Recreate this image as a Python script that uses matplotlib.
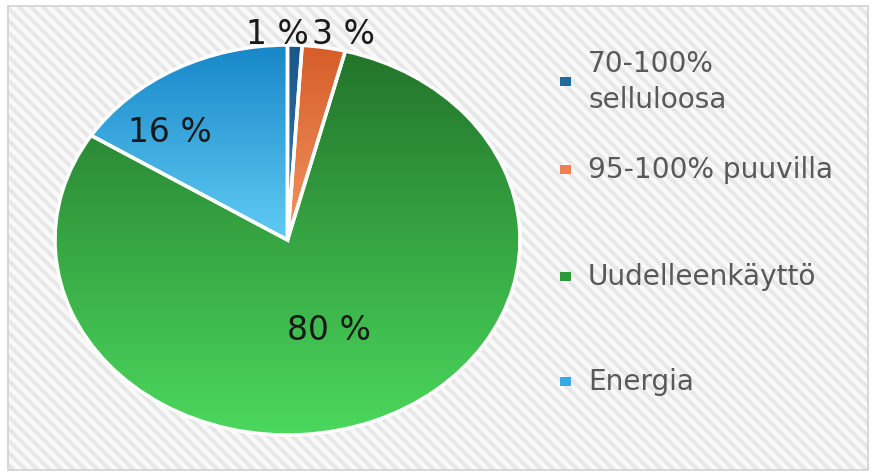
import matplotlib
matplotlib.use("Agg")
import matplotlib.pyplot as plt
import numpy as np
from matplotlib.colors import LinearSegmentedColormap
from matplotlib.patches import Rectangle

labels = ["70-100%\nselluloosa", "95-100% puuvilla", "Uudelleenkäyttö", "Energia"]
values = [1, 3, 80, 16]
pct_text = ["1 %", "3 %", "80 %", "16 %"]

# gradient colours per slice: (top, bottom)
grad = [("#1c5686", "#2f80bb"),
        ("#d65d28", "#f39562"),
        ("#23742a", "#4bd85d"),
        ("#1887c8", "#60cbf4")]
key_colors = ["#1f6a9e", "#ee7f4f", "#2b9a37", "#3aa9e0"]

# dpi 72 -> 1 pt == 1 px, and the hatch gets a ~12 px period
DPI = 72
plt.rcParams['font.family'] = 'DejaVu Sans'
plt.rcParams['hatch.linewidth'] = 4.0

W, H = 876, 476
fig = plt.figure(figsize=(W / DPI, H / DPI), dpi=DPI)
fig.patch.set_facecolor("white")

# striped background + frame
bg = Rectangle((8 / W, 6 / H), 860 / W, 464 / H, transform=fig.transFigure,
               facecolor="#f9f9f9", edgecolor="#e7e7e7", hatch="\\\\", lw=0, zorder=-5)
fig.patches.append(bg)
frame = Rectangle((8 / W, 6 / H), 860 / W, 464 / H, transform=fig.transFigure,
                  facecolor="none", edgecolor="#d2d2d2", lw=1.7, zorder=-4)
fig.patches.append(frame)

# pie axes (stretched ellipse like the picture)
cx, cy, rx, ry = 287.5, 240, 232.5, 195
m = 1.05
ax = fig.add_axes([(cx - m * rx) / W, (H - cy - m * ry) / H, 2 * m * rx / W, 2 * m * ry / H])
ax.set_facecolor("none")
ax.set_zorder(2)

wedges, _ = ax.pie(values, startangle=90, counterclock=False, radius=1,
                   wedgeprops=dict(edgecolor="white", linewidth=3.5))

for w, (top, bot) in zip(wedges, grad):
    th = np.radians(np.linspace(w.theta1, w.theta2, 100))
    xs = np.concatenate([[0], np.cos(th)])
    ys = np.concatenate([[0], np.sin(th)])
    cmap = LinearSegmentedColormap.from_list("g", [top, bot])
    img = np.linspace(0, 1, 256).reshape(-1, 1)
    im = ax.imshow(img, cmap=cmap, aspect="auto", origin="upper",
                   extent=[xs.min(), xs.max(), ys.min(), ys.max()], zorder=1)
    im.set_clip_path(w)
    w.set_facecolor("none")
    w.set_zorder(2)

ax.set_xlim(-m, m)
ax.set_ylim(-m, m)
ax.set_aspect("auto")
ax.axis("off")

# percentage labels (pixel positions of the picture)
label_pos = [(277, 34), (344, 34), (329, 331), (170, 132)]
for t, (px, py) in zip(pct_text, label_pos):
    ax.text((px - cx) / rx, (cy - py) / ry, t, ha="center", va="center",
            fontsize=33, color="#1a1a1a", zorder=5)

# legend
leg_y = [82, 170, 277, 382]
for lab, c, py in zip(labels, key_colors, leg_y):
    fig.patches.append(Rectangle((560 / W, (H - py - 4) / H), 11 / W, 9 / H,
                                 transform=fig.transFigure, facecolor=c, edgecolor="none"))
    fig.text(588 / W, (H - py) / H, lab, ha="left", va="center", fontsize=28,
             color="#595959", linespacing=1.4)

fig.savefig("out.png", dpi=DPI, facecolor=fig.get_facecolor())
